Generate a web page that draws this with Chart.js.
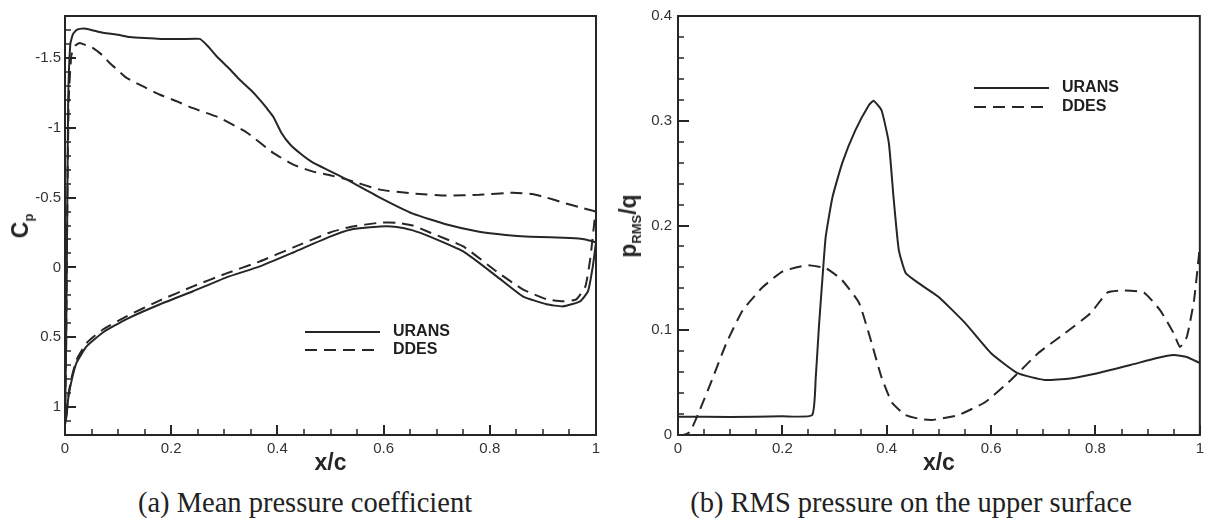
<!DOCTYPE html>
<html>
<head>
<meta charset="utf-8">
<script src="https://cdn.jsdelivr.net/npm/chart.js@4.4.1/dist/chart.umd.min.js"></script>
<style>
  body { margin: 0; background: #fff; }
  #page { position: relative; width: 1209px; height: 523px; overflow: hidden; background: #fff; }
  canvas { position: absolute; top: 0; }
  .ytitle {
    position: absolute; white-space: nowrap; color: #262626;
    font-family: "Liberation Sans", Arial, sans-serif; font-weight: bold; font-size: 23px;
    transform: translate(-50%, -50%) rotate(-90deg); line-height: 1;
  }
  .ytitle sub { font-size: 13px; vertical-align: -5px; }
  .caption {
    position: absolute; top: 489px; white-space: nowrap; color: #222;
    font-family: "Liberation Serif", "Times New Roman", serif; font-size: 28.5px; line-height: 1;
    transform: translateX(-50%);
  }
</style>
</head>
<body>
<div id="page">
  <canvas id="cpChart" width="610" height="480" style="left:0"></canvas>
  <canvas id="rmsChart" width="599" height="480" style="left:610px"></canvas>
  <div class="ytitle" style="left:22px; top:226px">C<sub>p</sub></div>
  <div class="ytitle" style="left:630px; top:226px">p<sub>RMS</sub>/q</div>
  <div class="caption" style="left:305px">(a) Mean pressure coefficient</div>
  <div class="caption" style="left:911px">(b) RMS pressure on the upper surface</div>
</div>
<script>
// (a) mean Cp, upper and lower surface, x/c from leading edge
const cpUpperUransX = [0, 0.002, 0.004, 0.006, 0.01, 0.015, 0.022, 0.034, 0.05, 0.072, 0.1, 0.122, 0.15, 0.18, 0.22, 0.254, 0.27, 0.286, 0.31, 0.33, 0.35, 0.367, 0.38, 0.392, 0.408, 0.424, 0.445, 0.467, 0.499, 0.53, 0.593, 0.655, 0.719, 0.78, 0.83, 0.876, 0.951, 0.98, 1.0];
const cpUpperUrans  = [1.12, 0.6, -0.3, -1.2, -1.6, -1.67, -1.7, -1.71, -1.7, -1.68, -1.665, -1.65, -1.642, -1.636, -1.635, -1.636, -1.58, -1.51, -1.42, -1.34, -1.27, -1.2, -1.14, -1.08, -0.96, -0.88, -0.81, -0.75, -0.69, -0.63, -0.5, -0.385, -0.307, -0.255, -0.232, -0.22, -0.21, -0.2, -0.18];
const cpLowerUransX = [0, 0.003, 0.006, 0.013, 0.022, 0.041, 0.072, 0.116, 0.179, 0.241, 0.304, 0.367, 0.43, 0.499, 0.537, 0.593, 0.625, 0.655, 0.687, 0.75, 0.813, 0.862, 0.907, 0.938, 0.97, 0.985, 0.994, 1.0];
const cpLowerUrans  = [1.12, 1.06, 0.94, 0.8, 0.68, 0.564, 0.464, 0.37, 0.264, 0.171, 0.071, -0.007, -0.107, -0.22, -0.27, -0.293, -0.29, -0.265, -0.22, -0.114, 0.064, 0.207, 0.264, 0.279, 0.243, 0.17, -0.007, -0.18];

const cpUpperDdesX = [0, 0.002, 0.004, 0.007, 0.012, 0.02, 0.028, 0.04, 0.053, 0.07, 0.085, 0.1, 0.116, 0.15, 0.179, 0.21, 0.241, 0.292, 0.343, 0.392, 0.43, 0.467, 0.499, 0.53, 0.593, 0.655, 0.719, 0.78, 0.844, 0.88, 0.907, 0.938, 0.97, 1.0];
const cpUpperDdes  = [1.12, 0.6, -0.3, -1.2, -1.52, -1.59, -1.607, -1.59, -1.57, -1.52, -1.46, -1.41, -1.357, -1.29, -1.236, -1.19, -1.14, -1.07, -0.964, -0.82, -0.736, -0.686, -0.66, -0.63, -0.557, -0.529, -0.514, -0.52, -0.535, -0.525, -0.5, -0.464, -0.43, -0.4];
const cpLowerDdesX = [0, 0.003, 0.006, 0.013, 0.022, 0.041, 0.072, 0.116, 0.179, 0.241, 0.304, 0.367, 0.43, 0.499, 0.537, 0.593, 0.625, 0.655, 0.687, 0.75, 0.813, 0.862, 0.907, 0.938, 0.963, 0.98, 0.989, 0.998, 1.0];
const cpLowerDdes  = [1.12, 1.05, 0.92, 0.78, 0.66, 0.54, 0.443, 0.35, 0.236, 0.136, 0.043, -0.043, -0.143, -0.25, -0.29, -0.32, -0.32, -0.3, -0.25, -0.15, 0.03, 0.157, 0.229, 0.243, 0.229, 0.136, -0.057, -0.36, -0.4];

// (b) RMS pressure on the upper surface
const rmsUransX = [0, 0.1, 0.2, 0.257, 0.264, 0.27, 0.277, 0.283, 0.296, 0.315, 0.34, 0.366, 0.375, 0.39, 0.404, 0.413, 0.423, 0.436, 0.461, 0.499, 0.55, 0.6, 0.651, 0.703, 0.752, 0.804, 0.867, 0.918, 0.95, 0.975, 1.0];
const rmsUrans  = [0.0175, 0.0172, 0.0178, 0.019, 0.055, 0.103, 0.151, 0.189, 0.227, 0.26, 0.291, 0.315, 0.319, 0.31, 0.279, 0.227, 0.177, 0.155, 0.145, 0.132, 0.107, 0.078, 0.059, 0.0525, 0.054, 0.059, 0.0668, 0.0735, 0.0764, 0.0745, 0.0687];
const rmsDdesX = [0, 0.01, 0.023, 0.042, 0.067, 0.093, 0.124, 0.162, 0.2, 0.246, 0.284, 0.314, 0.347, 0.371, 0.39, 0.41, 0.436, 0.467, 0.486, 0.537, 0.589, 0.638, 0.69, 0.741, 0.79, 0.823, 0.855, 0.893, 0.924, 0.95, 0.962, 0.975, 0.989, 1.0];
const rmsDdes  = [0, 0, 0.003, 0.024, 0.055, 0.088, 0.119, 0.141, 0.156, 0.162, 0.159, 0.148, 0.126, 0.088, 0.055, 0.031, 0.019, 0.015, 0.0143, 0.019, 0.0315, 0.0525, 0.078, 0.097, 0.116, 0.136, 0.138, 0.136, 0.119, 0.097, 0.084, 0.0935, 0.129, 0.18];

const seriesNames = ["URANS", "DDES"];
const xTicks = [0, 0.2, 0.4, 0.6, 0.8, 1];
const cpTicks = [-1.5, -1, -0.5, 0, 0.5, 1];
const rmsTicks = [0, 0.1, 0.2, 0.3, 0.4];

const INK = "#262626";
const tickFont = { family: "Liberation Sans", size: 15 };

// minor tick steps and legend spot for each panel
const panelStyle = {
  cpChart: { xMinor: 0.05, xMajor: 0.2, yMinor: 0.1, yMajor: 0.5, legendX: 305, legendY: 332, legendGap: 18 },
  rmsChart: { xMinor: 0.05, xMajor: 0.2, yMinor: 0.02, yMajor: 0.1, legendX: 364, legendY: 88, legendGap: 19 },
};

function toPoints(xs, ys) {
  return xs.map((x, i) => ({ x: x, y: ys[i] }));
}

// trailing edge -> leading edge along upper surface, then back along lower surface
function surfaceLoop(ux, uy, lx, ly) {
  const pts = toPoints(ux, uy).reverse();
  return pts.concat(toPoints(lx, ly).slice(1));
}

function lineSet(label, data, dashed) {
  return {
    label: label,
    data: data,
    borderColor: INK,
    borderWidth: 2,
    borderDash: dashed ? [12, 7] : [],
    pointRadius: 0,
    tension: 0.15,
    fill: false,
  };
}

function tickRange(min, max, step) {
  const out = [];
  const lo = Math.min(min, max), hi = Math.max(min, max);
  for (let i = Math.ceil(lo / step - 1e-6); i * step <= hi + 1e-9; i++) out.push(i * step);
  return out;
}

// frame, inward ticks, legend inside the plot
const framePlugin = {
  id: "frame",
  afterDraw(chart) {
    const st = panelStyle[chart.canvas.id];
    const ctx = chart.ctx;
    const a = chart.chartArea;
    const xs = chart.scales.x, ys = chart.scales.y;
    const near = (v, step) => Math.abs(v / step - Math.round(v / step)) < 1e-6;
    ctx.save();
    ctx.setLineDash([]);
    ctx.strokeStyle = INK;
    ctx.lineWidth = 2;
    ctx.strokeRect(a.left, a.top, a.right - a.left, a.bottom - a.top);

    tickRange(xs.min, xs.max, st.xMinor).forEach((v) => {
      const major = near(v, st.xMajor);
      const px = Math.round(xs.getPixelForValue(v));
      ctx.lineWidth = major ? 2 : 1.5;
      ctx.beginPath();
      ctx.moveTo(px, a.bottom);
      ctx.lineTo(px, a.bottom - (major ? 10 : 6));
      ctx.stroke();
    });
    tickRange(ys.min, ys.max, st.yMinor).forEach((v) => {
      const major = near(v, st.yMajor);
      const py = Math.round(ys.getPixelForValue(v));
      ctx.lineWidth = major ? 2 : 1.5;
      ctx.beginPath();
      ctx.moveTo(a.left, py);
      ctx.lineTo(a.left + (major ? 11 : 6), py);
      ctx.stroke();
    });

    ctx.font = "bold 16px 'Liberation Sans'";
    ctx.textBaseline = "middle";
    ctx.fillStyle = "#1e1e1e";
    chart.data.datasets.forEach((ds, i) => {
      const y = st.legendY + i * st.legendGap;
      ctx.lineWidth = 2;
      ctx.setLineDash(ds.borderDash);
      ctx.beginPath();
      ctx.moveTo(st.legendX, y);
      ctx.lineTo(st.legendX + 75, y);
      ctx.stroke();
      ctx.setLineDash([]);
      ctx.fillText(ds.label, st.legendX + 88, y);
    });
    ctx.restore();
  },
};

function fmt(v) {
  return String(Math.round(v * 10) / 10);
}

function xScale() {
  return {
    type: "linear",
    min: 0,
    max: 1,
    grid: { display: false, drawTicks: false },
    border: { display: false },
    afterBuildTicks: (s) => { s.ticks = xTicks.map((v) => ({ value: v })); },
    afterFit: (s) => { s.height = 45; },
    ticks: { font: tickFont, color: "#333", padding: 5, maxRotation: 0, callback: fmt },
    title: {
      display: true,
      text: "x/c",
      color: INK,
      font: { family: "Liberation Sans", size: 23, weight: "bold" },
      padding: { top: 0, bottom: 3 },
    },
  };
}

new Chart(document.getElementById("cpChart"), {
  type: "line",
  data: {
    datasets: [
      lineSet(seriesNames[0], surfaceLoop(cpUpperUransX, cpUpperUrans, cpLowerUransX, cpLowerUrans), false),
      lineSet(seriesNames[1], surfaceLoop(cpUpperDdesX, cpUpperDdes, cpLowerDdesX, cpLowerDdes), true),
    ],
  },
  options: {
    responsive: false,
    animation: false,
    layout: { padding: { left: 0, right: 14, top: 16, bottom: 0 } },
    plugins: { legend: { display: false }, tooltip: { enabled: false } },
    scales: {
      x: xScale(),
      y: {
        type: "linear",
        reverse: true,
        min: -1.8,
        max: 1.2,
        grid: { display: false, drawTicks: false },
        border: { display: false },
        afterBuildTicks: (s) => { s.ticks = cpTicks.map((v) => ({ value: v })); },
        afterFit: (s) => { s.width = 65; },
        ticks: { font: tickFont, color: "#333", padding: 4, callback: fmt },
      },
    },
  },
  plugins: [framePlugin],
});

new Chart(document.getElementById("rmsChart"), {
  type: "line",
  data: {
    datasets: [
      lineSet(seriesNames[0], toPoints(rmsUransX, rmsUrans), false),
      lineSet(seriesNames[1], toPoints(rmsDdesX, rmsDdes), true),
    ],
  },
  options: {
    responsive: false,
    animation: false,
    layout: { padding: { left: 0, right: 6, top: 16, bottom: 0 } },
    plugins: { legend: { display: false }, tooltip: { enabled: false } },
    scales: {
      x: xScale(),
      y: {
        type: "linear",
        min: 0,
        max: 0.4,
        grid: { display: false, drawTicks: false },
        border: { display: false },
        afterBuildTicks: (s) => { s.ticks = rmsTicks.map((v) => ({ value: v })); },
        afterFit: (s) => { s.width = 68; },
        ticks: { font: tickFont, color: "#333", padding: 6, callback: fmt },
      },
    },
  },
  plugins: [framePlugin],
});
</script>
</body>
</html>
